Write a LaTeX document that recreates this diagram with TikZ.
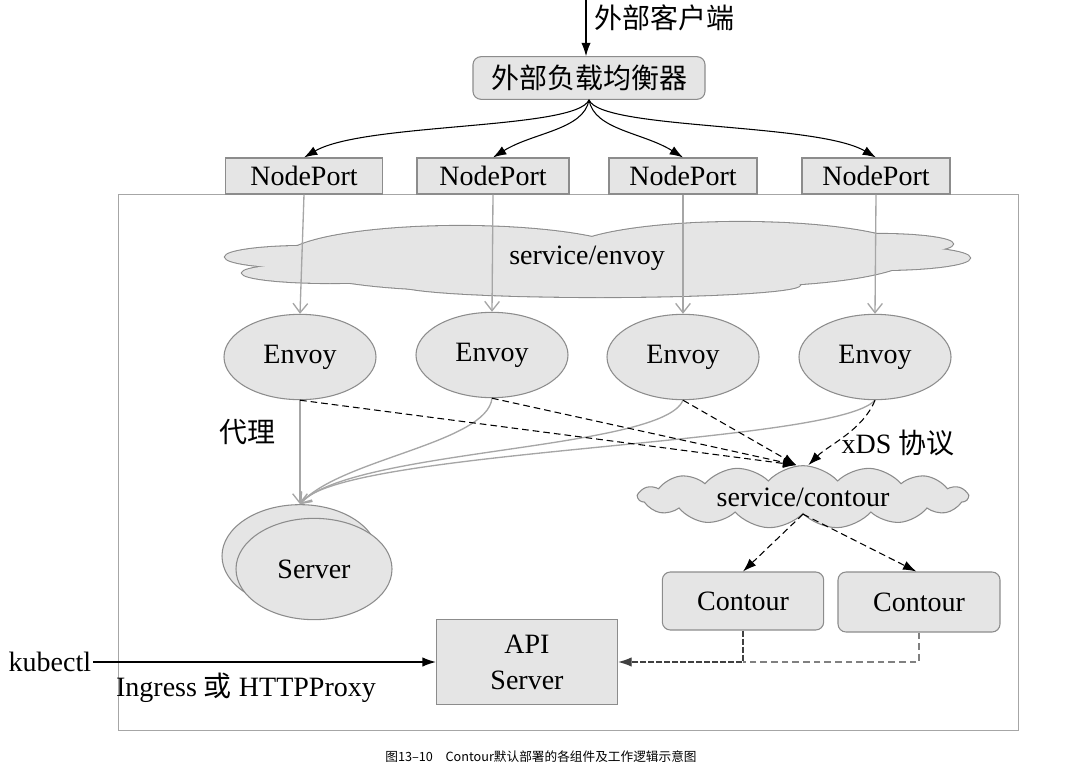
\documentclass[tikz,border=0pt]{standalone}
\usepackage{fontspec}
\setmainfont{Liberation Serif}
\newfontfamily\cjk{Noto Sans CJK SC}
\usetikzlibrary{shapes.geometric,shapes.symbols,arrows.meta}

\begin{document}
\begin{tikzpicture}[x=0.75pt,y=-0.75pt,line width=0.8pt,
    font=\fontsize{21}{27}\selectfont,
    box/.style={draw=black!45,fill=black!10,inner sep=0pt},
    rbox/.style={box,rounded corners=6pt},
    pod/.style={ellipse,draw=black!45,fill=black!10,inner sep=0pt,minimum width=114pt,minimum height=64pt},
    feed/.style={black!35,line width=1pt,-{Straight Barb[length=7pt,width=11pt]}},
    xds/.style={dash pattern=on 5pt off 3pt,-{Latex[length=10pt,width=7pt]}},
    push/.style={-{Latex[length=10pt,width=7pt]}}]
  \useasboundingbox (0,0) rectangle (1081,767);

  % cluster frame
  \draw[black!35,line width=0.6pt] (118,194) rectangle (1018,730);

  % load balancer and node ports
  \coordinate (top) at (586,0);
  \node[anchor=west] (client) at (590,18) {\cjk 外部客户端};
  \node[rbox,minimum width=174pt,minimum height=32pt] (lb) at (589,78) {\cjk 外部负载均衡器};
  \draw[push] (top) -- (top |- lb.north);
  \node[box,minimum width=118pt,minimum height=27pt] (np1) at (304,176) {NodePort};
  \node[box,minimum width=114pt,minimum height=27pt] (np2) at (493,176) {NodePort};
  \node[box,minimum width=111pt,minimum height=27pt] (np3) at (683,176) {NodePort};
  \node[box,minimum width=111pt,minimum height=27pt] (np4) at (876,176) {NodePort};
  \draw[push] (lb.south) .. controls +(-12,30) and +(60,-35) .. (np1.north);
  \draw[push] (lb.south) .. controls +(-5,30) and +(40,-25) .. (np2.north);
  \draw[push] (lb.south) .. controls +(5,30) and +(-40,-25) .. (np3.north);
  \draw[push] (lb.south) .. controls +(12,30) and +(-60,-35) .. (np4.north);

  % service/envoy cloud
  \foreach \cx/\cy/\rx/\ry in {460/258/175/32, 740/254/175/32, 305/257/80/11,
      330/273/88/10, 600/285/200/12, 880/244/73/10, 880/258/90/12}
    \draw[black!45,line width=1.6pt] (\cx,\cy) ellipse[x radius=\rx*0.75pt,y radius=\ry*0.75pt];
  \foreach \cx/\cy/\rx/\ry in {460/258/175/32, 740/254/175/32, 305/257/80/11,
      330/273/88/10, 600/285/200/12, 880/244/73/10, 880/258/90/12}
    \fill[black!10] (\cx,\cy) ellipse[x radius=\rx*0.75pt,y radius=\ry*0.75pt];
  \node (senv) at (587,258) {service/envoy};

  % envoys
  \node[pod] (e1) at (300,357) {Envoy};
  \node[pod] (e2) at (492,355) {Envoy};
  \node[pod] (e3) at (683,357) {Envoy};
  \node[pod] (e4) at (875,357) {Envoy};
  \draw[feed] (np1.south) -- (e1.north);
  \draw[feed] (np2.south) -- (e2.north);
  \draw[feed] (np3.south) -- (e3.north);
  \draw[feed] (np4.south) -- (e4.north);

  % backend servers
  \node[pod,minimum width=117pt,minimum height=77pt] (srvb) at (300,556) {};
  \node[pod,minimum width=117pt,minimum height=76pt] (srv) at (314,569) {Server};
  \node (proxy) at (247,432) {\cjk 代理};
  \draw[feed] (e1.south) -- (srvb.north);
  \draw[feed] (e2.south) .. controls +(-5,45) and +(40,-45) .. (srvb.north);
  \draw[feed] (e3.south) .. controls +(-20,50) and +(50,-55) .. (srvb.north);
  \draw[feed] (e4.south) .. controls +(-40,45) and +(40,-55) .. (srvb.north);

  % contour side
  \node[cloud,cloud puffs=15,cloud puff arc=95,cloud ignores aspect,draw=black!45,fill=black!10,
        inner sep=0pt,minimum width=247pt,minimum height=47pt] (ctr) at (803,497) {service/contour};
  \node (xdsl) at (898,443) {xDS {\cjk 协议}};
  \draw[xds] (e1.south) -- ([xshift=-5pt]ctr.north);
  \draw[xds] (e2.south) -- ([xshift=-5pt]ctr.north);
  \draw[xds] (e3.south) -- ([xshift=-5pt]ctr.north);
  \draw[xds] (e4.south) .. controls +(-12,30) and +(20,-20) .. ([xshift=4pt]ctr.north);
  \node[rbox,minimum width=121pt,minimum height=43.5pt] (c1) at (743,601) {Contour};
  \node[rbox,minimum width=121.5pt,minimum height=45pt] (c2) at (919,602) {Contour};
  \draw[xds] (ctr.south) -- (c1.north);
  \draw[xds] (ctr.south) -- ([xshift=-2pt]c2.north);

  % api server
  \node[box,minimum width=136pt,minimum height=64pt,align=center] (api) at (527,662) {API\\Server};
  \draw[black!50,dash pattern=on 5pt off 3pt] (c2.south) |- (c1.south |- api.east);
  \draw[black!75,dash pattern=on 5pt off 1pt,push] (c1.south) |- (api.east);
  \node[anchor=east,inner sep=1pt] (kc) at (93,662) {kubectl};
  \draw[push] (kc.east) -- (api.west);
  \node (ing) at (246,688) {Ingress {\cjk 或} HTTPProxy};

  \node (cap) at (541,757) {\fontsize{9.5}{11}\selectfont\cjk 图13–10\quad Contour默认部署的各组件及工作逻辑示意图};
\end{tikzpicture}
\end{document}
